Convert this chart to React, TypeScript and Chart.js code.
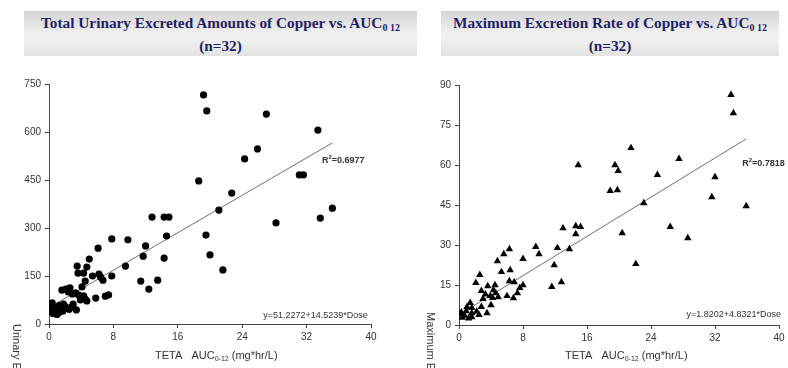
import React, { useEffect, useRef } from "react";
import { Chart, registerables } from "chart.js";
Chart.register(...registerables);

// ---------- data ----------
const xTicks = [0, 8, 16, 24, 32, 40];
const leftYTicks = [0, 150, 300, 450, 600, 750];
const rightYTicks = [0, 15, 30, 45, 60, 75, 90];

const copperAmountX = [
  19.2, 19.6, 27.0, 33.4, 25.9, 24.3, 18.6, 22.7, 31.1, 31.6, 21.1, 28.2, 33.7, 35.2, 19.5, 20.0, 21.6,
  12.8, 14.3, 14.9, 14.6, 7.8, 9.8, 6.1, 12.0, 11.7, 14.3, 5.0, 3.5, 4.7, 9.5, 4.3, 3.6, 6.2, 5.4, 6.4, 7.8, 6.7, 4.5, 11.4, 13.5, 4.1, 12.4,
  1.6, 2.1, 2.6, 2.4, 2.9, 3.3, 3.7, 4.1, 4.3, 4.7, 5.8, 7.0, 7.4, 3.9, 4.5,
  0.0, 0.1, 0.2, 0.3, 0.5, 0.6, 0.8, 0.9, 1.1, 1.2, 1.3, 1.5, 1.7, 1.8, 2.0, 2.2, 2.5, 2.8, 3.0, 3.4, 0.4, 1.0,
];
const copperAmountY = [
  716, 666, 656, 606, 547, 516, 447, 409, 466, 466, 356, 316, 331, 362, 278, 216, 169,
  334, 334, 334, 275, 266, 263, 237, 244, 212, 206, 203, 181, 178, 181, 159, 159, 156, 150, 147, 150, 137, 134, 134, 137, 116, 109,
  106, 109, 113, 100, 94, 97, 90, 81, 88, 72, 81, 87, 91, 75, 78,
  62, 50, 40, 56, 33, 45, 38, 52, 44, 35, 58, 48, 40, 62, 55, 50, 46, 53, 62, 44, 66, 30,
];

const copperRateX = [
  34.0, 34.3, 21.5, 19.5, 19.9, 27.5, 24.8, 32.0, 18.9, 19.8, 31.6, 35.9, 23.1, 26.4, 20.4, 28.6, 22.1, 14.9,
  13.0, 14.6, 15.2, 14.6, 6.3, 5.6, 4.8, 5.3, 6.4, 8.0, 9.6, 10.0, 12.3, 13.8, 11.9, 12.8, 11.6, 8.0, 7.6, 7.3, 6.9, 6.3, 6.8, 6.0,
  2.1, 2.6, 2.8, 3.6, 4.5, 4.3, 4.6, 3.9, 4.9, 4.0, 2.8, 3.5, 2.5, 1.4, 1.6, 1.0, 1.6, 1.6, 0.1, 0.4, 0.7, 0.9, 1.2, 0.3, 2.2, 3.0, 3.3, 4.2,
];
const copperRateY = [
  86.3, 79.5, 66.4, 60.0, 57.8, 62.3, 56.3, 55.5, 50.3, 50.6, 48.0, 44.6, 45.7, 36.8, 34.5, 32.6, 22.9, 60.0,
  36.3, 37.1, 36.8, 34.1, 28.5, 26.6, 24.0, 19.9, 20.6, 24.8, 29.3, 26.6, 28.9, 28.5, 22.5, 16.1, 14.3, 15.0, 13.9, 12.0, 16.1, 16.5, 10.1, 10.9,
  15.8, 18.8, 12.8, 14.6, 15.0, 13.1, 12.0, 10.9, 10.5, 7.5, 6.8, 4.5, 3.8, 8.3, 6.4, 6.8, 4.5, 3.0, 4.1, 2.8, 3.5, 5.2, 2.5, 4.8, 5.0, 9.8, 11.5, 10.2,
];

// fitted lines as drawn (end points)
const amountLineX = [0, 35.2];
const amountLineY = [51.2, 566];
const rateLineX = [0, 35.9];
const rateLineY = [3.8, 69.8];

const amountR2 = "0.6977";
const amountEq = "y=51.2272+14.5239*Dose";
const rateR2 = "0.7818";
const rateEq = "y=1.8202+4.8321*Dose";

// ---------- helpers ----------
type Run = { t: string; f: string; dy: number };

function drawRuns(ctx: CanvasRenderingContext2D, runs: Run[], x: number, y: number, align: "left" | "right") {
  let total = 0;
  runs.forEach((r) => {
    ctx.font = r.f;
    total += ctx.measureText(r.t).width;
  });
  let cx = align === "right" ? x - total : x;
  ctx.textAlign = "left";
  ctx.textBaseline = "middle";
  runs.forEach((r) => {
    ctx.font = r.f;
    ctx.fillText(r.t, cx, y + r.dy);
    cx += ctx.measureText(r.t).width;
  });
}

const SANS = "'Liberation Sans', Arial, sans-serif";

type PanelCfg = {
  xs: number[];
  ys: number[];
  lx: number[];
  ly: number[];
  yTicks: number[];
  yMax: number;
  pointStyle: string;
  radius: number;
  pad: { left: number; right: number; top: number };
  yWidth: number;
  xHeight: number;
  yTitle: string;
  yTitlePos: [number, number];
  r2: string;
  r2At: [number, number];
  eq: string;
  eqAt: [number, number];
};

function Panel({ cfg }: { cfg: PanelCfg }) {
  const ref = useRef<HTMLCanvasElement>(null);
  useEffect(() => {
    if (!ref.current) return;
    const textPlugin = {
      id: "texts",
      afterDraw(chart: any) {
        const ctx = chart.ctx as CanvasRenderingContext2D;
        const xs = chart.scales.x;
        const ys = chart.scales.y;
        ctx.save();
        ctx.fillStyle = "#333";
        // R^2
        drawRuns(
          ctx,
          [
            { t: "R", f: `bold 9px ${SANS}`, dy: 0 },
            { t: "2", f: `bold 6px ${SANS}`, dy: -3 },
            { t: "=" + cfg.r2, f: `bold 9px ${SANS}`, dy: 0 },
          ],
          xs.getPixelForValue(cfg.r2At[0]),
          ys.getPixelForValue(cfg.r2At[1]),
          "left"
        );
        // equation
        drawRuns(
          ctx,
          [{ t: cfg.eq, f: `9px ${SANS}`, dy: 0 }],
          xs.getPixelForValue(cfg.eqAt[0]),
          ys.getPixelForValue(cfg.eqAt[1]),
          "right"
        );
        // x title
        drawRuns(
          ctx,
          [
            { t: "TETA   AUC", f: `11px ${SANS}`, dy: 0 },
            { t: "0-12", f: `7px ${SANS}`, dy: 3 },
            { t: " (mg*hr/L)", f: `11px ${SANS}`, dy: 0 },
          ],
          chart.chartArea.left + 106,
          356,
          "left"
        );
        // y title (rotated clockwise)
        ctx.translate(cfg.yTitlePos[0], cfg.yTitlePos[1]);
        ctx.rotate(Math.PI / 2);
        ctx.font = `11px ${SANS}`;
        ctx.textAlign = "left";
        ctx.textBaseline = "middle";
        ctx.fillText(cfg.yTitle, 0, 0);
        ctx.restore();
      },
    };
    const pts = cfg.xs.map((x, i) => ({ x, y: cfg.ys[i] }));
    const line = cfg.lx.map((x, i) => ({ x, y: cfg.ly[i] }));
    const axisColor = "#444";
    const tickFont = { family: SANS, size: 10 };
    const chart = new Chart(ref.current, {
      type: "scatter",
      data: {
        datasets: [
          {
            data: pts,
            pointStyle: cfg.pointStyle as any,
            pointRadius: cfg.radius,
            backgroundColor: "#000",
            borderColor: "#000",
            borderWidth: 0,
          },
          {
            data: line,
            showLine: true,
            pointRadius: 0,
            borderColor: "#707070",
            borderWidth: 1,
          },
        ],
      },
      options: {
        animation: false,
        responsive: false,
        devicePixelRatio: 1,
        events: [],
        layout: { padding: { left: cfg.pad.left, right: cfg.pad.right, top: cfg.pad.top, bottom: 0 } },
        plugins: { legend: { display: false }, tooltip: { enabled: false }, title: { display: false } },
        scales: {
          x: {
            type: "linear",
            min: 0,
            max: 40,
            afterBuildTicks: (s: any) => {
              s.ticks = xTicks.map((v) => ({ value: v }));
            },
            afterFit: (s: any) => {
              s.height = cfg.xHeight;
            },
            ticks: { font: tickFont, color: "#333", padding: 3, maxRotation: 0, autoSkip: false },
            grid: { drawOnChartArea: false, drawTicks: true, tickLength: 4, color: axisColor },
            border: { color: axisColor, width: 1 },
          },
          y: {
            type: "linear",
            min: 0,
            max: cfg.yMax,
            afterBuildTicks: (s: any) => {
              s.ticks = cfg.yTicks.map((v) => ({ value: v }));
            },
            afterFit: (s: any) => {
              s.width = cfg.yWidth;
            },
            ticks: { font: tickFont, color: "#333", padding: 4, autoSkip: false },
            grid: { drawOnChartArea: false, drawTicks: true, tickLength: 4, color: axisColor },
            border: { color: axisColor, width: 1 },
          },
        },
      } as any,
      plugins: [textPlugin],
    });
    return () => chart.destroy();
  }, []);
  return <canvas ref={ref} width={394} height={368} style={{ width: 394, height: 368, display: "block" }} />;
}

const titleStyle: React.CSSProperties = {
  position: "absolute",
  top: 11,
  height: 45,
  background: "linear-gradient(to bottom, #d4d4d4 0%, #f3f3f3 55%, #e2e2e2 100%)",
  color: "#1f1f66",
  fontFamily: "'Liberation Serif', 'Times New Roman', serif",
  fontWeight: "bold",
  fontSize: 15.3,
  lineHeight: "23px",
  textAlign: "center",
  whiteSpace: "nowrap",
};
const subStyle: React.CSSProperties = { fontSize: 10, verticalAlign: "-3px", lineHeight: 0 };

const leftCfg: PanelCfg = {
  xs: copperAmountX,
  ys: copperAmountY,
  lx: amountLineX,
  ly: amountLineY,
  yTicks: leftYTicks,
  yMax: 750,
  pointStyle: "circle",
  radius: 3.6,
  pad: { left: 0, right: 23, top: 84 },
  yWidth: 49,
  xHeight: 44,
  yTitle: "Urinary Excreted Amounts (mg)",
  yTitlePos: [16, 324],
  r2: amountR2,
  r2At: [33.9, 512],
  eq: amountEq,
  eqAt: [39.6, 28],
};
const rightCfg: PanelCfg = {
  xs: copperRateX,
  ys: copperRateY,
  lx: rateLineX,
  ly: rateLineY,
  yTicks: rightYTicks,
  yMax: 90,
  pointStyle: "triangle",
  radius: 4.3,
  pad: { left: 0, right: 9, top: 85 },
  yWidth: 65,
  xHeight: 43,
  yTitle: "Maximum Excretion Rate (mg/hr)",
  yTitlePos: [36, 312],
  r2: rateR2,
  r2At: [35.4, 60.7],
  eq: rateEq,
  eqAt: [40.25, 4.1],
};

export default function App() {
  return (
    <div style={{ position: "fixed", left: 0, top: 0, width: 788, height: 368, background: "#fff", overflow: "hidden" }}>
      <div style={{ position: "absolute", left: 0, top: 0 }}>
        <Panel cfg={leftCfg} />
      </div>
      <div style={{ position: "absolute", left: 394, top: 0 }}>
        <Panel cfg={rightCfg} />
      </div>
      <div style={{ ...titleStyle, left: 24, width: 393 }}>
        Total Urinary Excreted Amounts of Copper vs. AUC<span style={subStyle}>0 12</span>
        <br />
        (n=32)
      </div>
      <div style={{ ...titleStyle, left: 441, width: 338 }}>
        Maximum Excretion Rate of Copper vs. AUC<span style={subStyle}>0 12</span>
        <br />
        (n=32)
      </div>
    </div>
  );
}
